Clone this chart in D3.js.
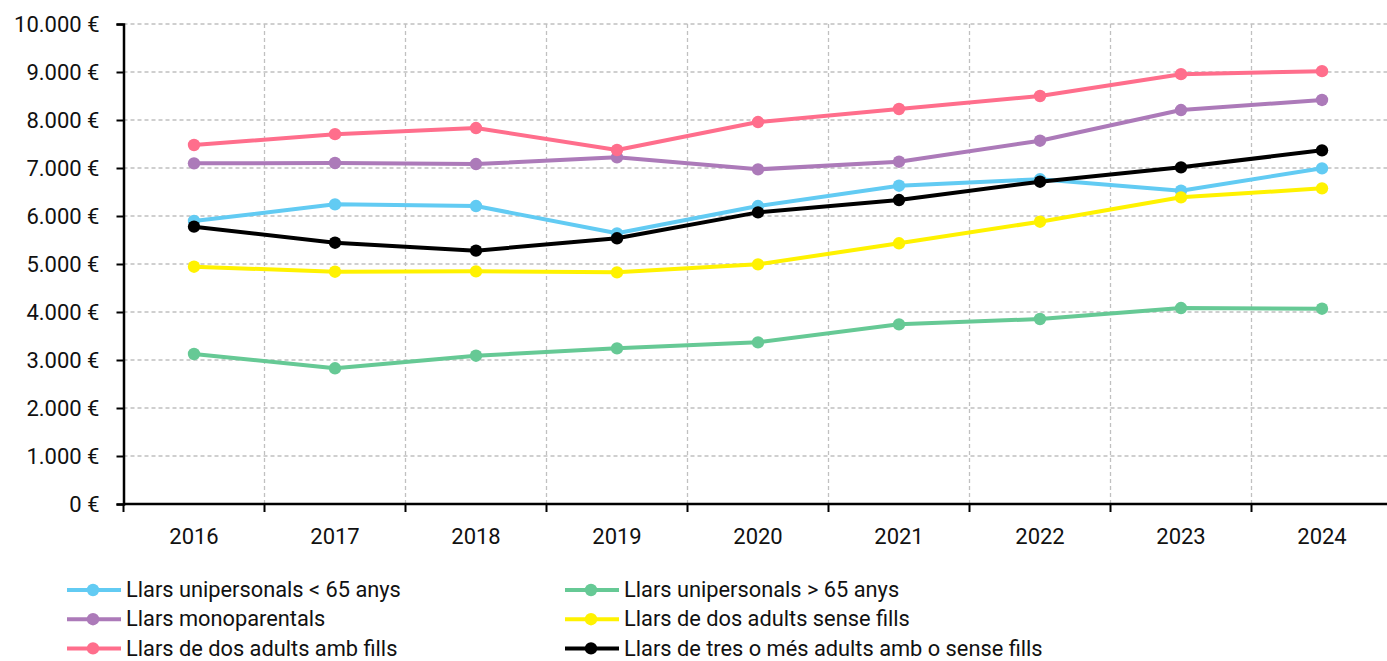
<!DOCTYPE html>
<html><head><meta charset="utf-8">
<script src="https://cdn.jsdelivr.net/npm/d3@7"></script>
<style>body{margin:0;background:#fff}svg{display:block}text{font-family:Roboto,"Noto Sans",sans-serif;fill:#111}</style>
</head><body><svg id="c" width="1387" height="661"></svg>
<script>
const years = ["2016","2017","2018","2019","2020","2021","2022","2023","2024"];
const yTicks = [0,1000,2000,3000,4000,5000,6000,7000,8000,9000,10000];
const seriesNames = ["Llars unipersonals < 65 anys","Llars unipersonals > 65 anys","Llars monoparentals","Llars de dos adults sense fills","Llars de dos adults amb fills","Llars de tres o més adults amb o sense fills"];
const seriesColors = ["#62CBF3","#66C995","#AC7AB9","#FFF200","#FF6E8C","#000000"];
const uniMenys65 = [5896,6243,6208,5639,6208,6631,6765,6528,6993];
const uniMes65 = [3125,2827,3090,3243,3368,3743,3854,4083,4069];
const monoparentals = [7097,7104,7083,7222,6972,7131,7569,8208,8417];
const dosSenseFills = [4944,4840,4847,4826,4993,5431,5881,6389,6576];
const dosAmbFills = [7479,7705,7833,7375,7958,8229,8500,8955,9018];
const tresOMes = [5778,5444,5278,5535,6076,6333,6715,7014,7368];
const seriesValues = [uniMenys65,uniMes65,monoparentals,dosSenseFills,dosAmbFills,tresOMes];

const svg = d3.select("#c");
const L=123.5,R=1392.5,T=24,B=504;
const x = d3.scaleBand().domain(years).range([L,R]);
const y = d3.scaleLinear().domain([0,10000]).range([B,T]);
const fmt = v => d3.format(",")(v).replace(/,/g,".")+" €";

// grid
const g = svg.append("g");
g.selectAll(".hg").data(yTicks.filter(d=>d>0)).join("line")
  .attr("x1",L).attr("x2",R).attr("y1",d=>y(d)).attr("y2",d=>y(d))
  .attr("stroke","#c0c0c0").attr("stroke-width",1.3).attr("stroke-dasharray","4,3");
const bounds = years.slice(1).map(d=>x(d));
g.selectAll(".vg").data(bounds).join("line")
  .attr("x1",d=>d).attr("x2",d=>d).attr("y1",T).attr("y2",B)
  .attr("stroke","#c0c0c0").attr("stroke-width",1.3).attr("stroke-dasharray","4,3");

// axes
const ya = svg.append("g").attr("transform",`translate(${L},0)`)
  .call(d3.axisLeft(y).tickValues(yTicks).tickFormat(fmt).tickSize(7).tickPadding(17));
ya.select(".domain").attr("stroke","#000").attr("stroke-width",2.5);
ya.selectAll(".tick line").attr("stroke","#000").attr("stroke-width",2);
ya.selectAll(".tick text").attr("font-size",22).attr("fill","#111").attr("font-family","Roboto");

const xa = svg.append("g").attr("transform",`translate(0,${B})`)
  .call(d3.axisBottom(x).tickSize(0).tickPadding(24));
xa.select(".domain").attr("stroke","#000").attr("stroke-width",2.5).attr("d",`M${L},0H${R}`);
xa.selectAll(".tick text").attr("font-size",22).attr("fill","#111").attr("font-family","Roboto");
svg.append("g").selectAll("line").data([L].concat(bounds).concat([R])).join("line")
  .attr("x1",d=>d).attr("x2",d=>d).attr("y1",B).attr("y2",B+8)
  .attr("stroke","#000").attr("stroke-width",2);

// series
const line = d3.line().x((d,i)=>x(years[i])+x.bandwidth()/2).y(d=>y(d));
seriesValues.forEach((vals,si)=>{
  const s = svg.append("g");
  s.append("path").attr("d",line(vals)).attr("fill","none").attr("stroke",seriesColors[si]).attr("stroke-width",4).attr("stroke-linejoin","round");
  s.selectAll("circle").data(vals).join("circle")
    .attr("cx",(d,i)=>x(years[i])+x.bandwidth()/2).attr("cy",d=>y(d)).attr("r",6.2).attr("fill",seriesColors[si]);
});

// legend
const lg = svg.append("g");
seriesNames.forEach((n,i)=>{
  const col=i%2,row=Math.floor(i/2);
  const lx = col===0?67:565, ly = 590+row*29.2;
  const it = lg.append("g").attr("transform",`translate(${lx},${ly})`);
  it.append("line").attr("x1",0).attr("x2",54).attr("y1",0).attr("y2",0).attr("stroke",seriesColors[i]).attr("stroke-width",4);
  it.append("circle").attr("cx",26).attr("cy",0).attr("r",6.2).attr("fill",seriesColors[i]);
  it.append("text").attr("x",59).attr("y",0).attr("dy","0.33em").attr("font-size",21.8).text(n);
});
</script></body></html>
